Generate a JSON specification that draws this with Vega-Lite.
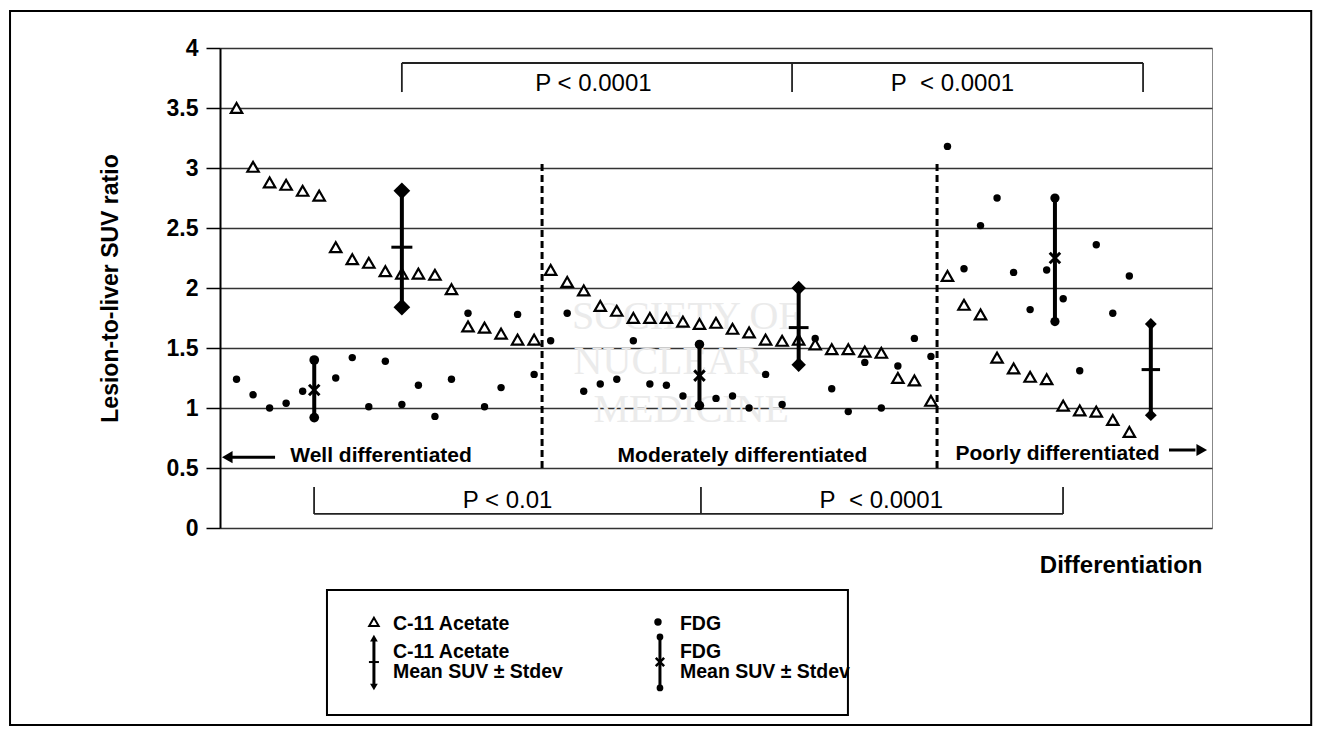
{
  "$schema": "https://vega.github.io/schema/vega-lite/v6.json",
  "width": 992,
  "height": 480,
  "padding": {"left": 9, "top": 10, "right": 0, "bottom": 0},
  "autosize": {"type": "pad"},
  "background": "white",
  "config": {"font": "Liberation Sans", "view": {"stroke": "#888", "strokeWidth": 1}},
  "resolve": {"scale": {"size": "independent", "shape": "independent"}},
  "datasets": {
    "points": [
      {"x": 1, "tracer": "C-11 Acetate", "y": 3.50}, {"x": 2, "tracer": "C-11 Acetate", "y": 3.01},
      {"x": 3, "tracer": "C-11 Acetate", "y": 2.88}, {"x": 4, "tracer": "C-11 Acetate", "y": 2.86},
      {"x": 5, "tracer": "C-11 Acetate", "y": 2.81}, {"x": 6, "tracer": "C-11 Acetate", "y": 2.77},
      {"x": 7, "tracer": "C-11 Acetate", "y": 2.34}, {"x": 8, "tracer": "C-11 Acetate", "y": 2.24},
      {"x": 9, "tracer": "C-11 Acetate", "y": 2.21}, {"x": 10, "tracer": "C-11 Acetate", "y": 2.14},
      {"x": 11, "tracer": "C-11 Acetate", "y": 2.12}, {"x": 12, "tracer": "C-11 Acetate", "y": 2.12},
      {"x": 13, "tracer": "C-11 Acetate", "y": 2.11}, {"x": 14, "tracer": "C-11 Acetate", "y": 1.99},
      {"x": 15, "tracer": "C-11 Acetate", "y": 1.68}, {"x": 16, "tracer": "C-11 Acetate", "y": 1.67},
      {"x": 17, "tracer": "C-11 Acetate", "y": 1.62}, {"x": 18, "tracer": "C-11 Acetate", "y": 1.57},
      {"x": 19, "tracer": "C-11 Acetate", "y": 1.57},
      {"x": 20, "tracer": "C-11 Acetate", "y": 2.15}, {"x": 21, "tracer": "C-11 Acetate", "y": 2.05},
      {"x": 22, "tracer": "C-11 Acetate", "y": 1.98}, {"x": 23, "tracer": "C-11 Acetate", "y": 1.85},
      {"x": 24, "tracer": "C-11 Acetate", "y": 1.81}, {"x": 25, "tracer": "C-11 Acetate", "y": 1.75},
      {"x": 26, "tracer": "C-11 Acetate", "y": 1.75}, {"x": 27, "tracer": "C-11 Acetate", "y": 1.75},
      {"x": 28, "tracer": "C-11 Acetate", "y": 1.72}, {"x": 29, "tracer": "C-11 Acetate", "y": 1.70},
      {"x": 30, "tracer": "C-11 Acetate", "y": 1.71}, {"x": 31, "tracer": "C-11 Acetate", "y": 1.66},
      {"x": 32, "tracer": "C-11 Acetate", "y": 1.63}, {"x": 33, "tracer": "C-11 Acetate", "y": 1.57},
      {"x": 34, "tracer": "C-11 Acetate", "y": 1.56}, {"x": 35, "tracer": "C-11 Acetate", "y": 1.57},
      {"x": 36, "tracer": "C-11 Acetate", "y": 1.53}, {"x": 37, "tracer": "C-11 Acetate", "y": 1.49},
      {"x": 38, "tracer": "C-11 Acetate", "y": 1.49}, {"x": 39, "tracer": "C-11 Acetate", "y": 1.47},
      {"x": 40, "tracer": "C-11 Acetate", "y": 1.46}, {"x": 41, "tracer": "C-11 Acetate", "y": 1.25},
      {"x": 42, "tracer": "C-11 Acetate", "y": 1.23}, {"x": 43, "tracer": "C-11 Acetate", "y": 1.06},
      {"x": 44, "tracer": "C-11 Acetate", "y": 2.10}, {"x": 45, "tracer": "C-11 Acetate", "y": 1.86},
      {"x": 46, "tracer": "C-11 Acetate", "y": 1.78}, {"x": 47, "tracer": "C-11 Acetate", "y": 1.42},
      {"x": 48, "tracer": "C-11 Acetate", "y": 1.33}, {"x": 49, "tracer": "C-11 Acetate", "y": 1.26},
      {"x": 50, "tracer": "C-11 Acetate", "y": 1.24}, {"x": 51, "tracer": "C-11 Acetate", "y": 1.02},
      {"x": 52, "tracer": "C-11 Acetate", "y": 0.98}, {"x": 53, "tracer": "C-11 Acetate", "y": 0.97},
      {"x": 54, "tracer": "C-11 Acetate", "y": 0.90}, {"x": 55, "tracer": "C-11 Acetate", "y": 0.80},
      {"x": 1, "tracer": "FDG", "y": 1.24}, {"x": 2, "tracer": "FDG", "y": 1.11},
      {"x": 3, "tracer": "FDG", "y": 1.00}, {"x": 4, "tracer": "FDG", "y": 1.04},
      {"x": 5, "tracer": "FDG", "y": 1.14}, {"x": 7, "tracer": "FDG", "y": 1.25},
      {"x": 8, "tracer": "FDG", "y": 1.42}, {"x": 9, "tracer": "FDG", "y": 1.01},
      {"x": 10, "tracer": "FDG", "y": 1.39}, {"x": 11, "tracer": "FDG", "y": 1.03},
      {"x": 12, "tracer": "FDG", "y": 1.19}, {"x": 13, "tracer": "FDG", "y": 0.93},
      {"x": 14, "tracer": "FDG", "y": 1.24}, {"x": 15, "tracer": "FDG", "y": 1.79},
      {"x": 16, "tracer": "FDG", "y": 1.01}, {"x": 17, "tracer": "FDG", "y": 1.17},
      {"x": 18, "tracer": "FDG", "y": 1.78}, {"x": 19, "tracer": "FDG", "y": 1.28},
      {"x": 20, "tracer": "FDG", "y": 1.56}, {"x": 21, "tracer": "FDG", "y": 1.79},
      {"x": 22, "tracer": "FDG", "y": 1.14}, {"x": 23, "tracer": "FDG", "y": 1.20},
      {"x": 24, "tracer": "FDG", "y": 1.24}, {"x": 25, "tracer": "FDG", "y": 1.56},
      {"x": 26, "tracer": "FDG", "y": 1.20}, {"x": 27, "tracer": "FDG", "y": 1.19},
      {"x": 28, "tracer": "FDG", "y": 1.10}, {"x": 30, "tracer": "FDG", "y": 1.08},
      {"x": 31, "tracer": "FDG", "y": 1.10}, {"x": 32, "tracer": "FDG", "y": 1.00},
      {"x": 33, "tracer": "FDG", "y": 1.28}, {"x": 34, "tracer": "FDG", "y": 1.03},
      {"x": 36, "tracer": "FDG", "y": 1.58}, {"x": 37, "tracer": "FDG", "y": 1.16},
      {"x": 38, "tracer": "FDG", "y": 0.97}, {"x": 39, "tracer": "FDG", "y": 1.38},
      {"x": 40, "tracer": "FDG", "y": 1.00}, {"x": 41, "tracer": "FDG", "y": 1.35},
      {"x": 42, "tracer": "FDG", "y": 1.58}, {"x": 43, "tracer": "FDG", "y": 1.43},
      {"x": 44, "tracer": "FDG", "y": 3.18}, {"x": 45, "tracer": "FDG", "y": 2.16},
      {"x": 46, "tracer": "FDG", "y": 2.52}, {"x": 47, "tracer": "FDG", "y": 2.75},
      {"x": 48, "tracer": "FDG", "y": 2.13}, {"x": 49, "tracer": "FDG", "y": 1.82},
      {"x": 50, "tracer": "FDG", "y": 2.15}, {"x": 51, "tracer": "FDG", "y": 1.91},
      {"x": 52, "tracer": "FDG", "y": 1.31}, {"x": 53, "tracer": "FDG", "y": 2.36},
      {"x": 54, "tracer": "FDG", "y": 1.79}, {"x": 55, "tracer": "FDG", "y": 2.10}
    ],
    "bars": [
      {"x": 11.0, "tracer": "C-11 Acetate", "group": "Well", "lo": 1.84, "mean": 2.34, "hi": 2.81},
      {"x": 35.0, "tracer": "C-11 Acetate", "group": "Moderate", "lo": 1.36, "mean": 1.67, "hi": 2.00},
      {"x": 56.3, "tracer": "C-11 Acetate", "group": "Poor", "lo": 0.94, "mean": 1.32, "hi": 1.70},
      {"x": 5.7, "tracer": "FDG", "group": "Well", "lo": 0.92, "mean": 1.15, "hi": 1.40},
      {"x": 29.0, "tracer": "FDG", "group": "Moderate", "lo": 1.02, "mean": 1.27, "hi": 1.53},
      {"x": 50.5, "tracer": "FDG", "group": "Poor", "lo": 1.72, "mean": 2.25, "hi": 2.75}
    ],
    "frame": [{"x": -12.7, "x2": 66.0, "y": 4.308, "y2": -1.642}],
    "watermark": [
      {"x": 28.2, "y": 1.76, "label": "SOCIETY OF"},
      {"x": 27.1, "y": 1.38, "label": "NUCLEAR"},
      {"x": 28.5, "y": 0.98, "label": "MEDICINE"}
    ],
    "dividers": [{"x": 19.48, "y": 0.5, "y2": 3.05}, {"x": 43.37, "y": 0.5, "y2": 3.04}],
    "brackets": [
      {"x": 11.0, "y": 3.875, "x2": 55.83, "y2": 3.875},
      {"x": 11.0, "y": 3.875, "x2": 11.0, "y2": 3.633},
      {"x": 34.6, "y": 3.875, "x2": 34.6, "y2": 3.633},
      {"x": 55.83, "y": 3.875, "x2": 55.83, "y2": 3.633},
      {"x": 5.69, "y": 0.117, "x2": 50.99, "y2": 0.117},
      {"x": 5.69, "y": 0.117, "x2": 5.69, "y2": 0.342},
      {"x": 29.09, "y": 0.117, "x2": 29.09, "y2": 0.342},
      {"x": 50.99, "y": 0.117, "x2": 50.99, "y2": 0.342}
    ],
    "pvalues": [
      {"x": 22.59, "y": 3.64, "label": "P < 0.0001"},
      {"x": 44.3, "y": 3.64, "label": "P\u00a0 < 0.0001"},
      {"x": 17.39, "y": 0.167, "label": "P < 0.01"},
      {"x": 40.0, "y": 0.167, "label": "P\u00a0 < 0.0001"}
    ],
    "regions": [
      {"x": 9.74, "y": 0.55, "label": "Well differentiated"},
      {"x": 31.6, "y": 0.553, "label": "Moderately differentiated"},
      {"x": 50.66, "y": 0.567, "label": "Poorly differentiated"}
    ],
    "arrowLines": [{"x": 0.5, "x2": 3.33, "y": 0.59}, {"x": 57.4, "x2": 59.0, "y": 0.65}],
    "arrowHeads": [{"x": 0.44, "y": 0.59, "dir": "left"}, {"x": 59.38, "y": 0.65, "dir": "right"}],
    "legendBox": [{"x": 6.47, "x2": 37.98, "y": -0.517, "y2": -1.558}],
    "legendText": [
      {"x": 10.46, "y": -0.85, "label": "C-11 Acetate"},
      {"x": 10.46, "y": -1.083, "label": "C-11 Acetate"},
      {"x": 10.46, "y": -1.25, "label": "Mean SUV ± Stdev"},
      {"x": 27.82, "y": -0.85, "label": "FDG"},
      {"x": 27.82, "y": -1.083, "label": "FDG"},
      {"x": 27.82, "y": -1.25, "label": "Mean SUV ± Stdev"}
    ],
    "legendSymbols": [
      {"x": 9.31, "y": -0.783, "tracer": "C-11 Acetate"},
      {"x": 26.49, "y": -0.783, "tracer": "FDG"}
    ],
    "legendIcons": [
      {"x": 9.31, "tracer": "C-11 Acetate", "top": -0.917, "bottom": -1.325, "mid": -1.117},
      {"x": 26.61, "tracer": "FDG", "top": -0.908, "bottom": -1.333, "mid": -1.117}
    ]
  },
  "encoding": {
    "x": {
      "field": "x", "type": "quantitative",
      "scale": {"domain": [0, 60], "nice": false, "zero": false},
      "axis": {
        "title": "Differentiation", "labels": false, "ticks": false, "domain": false, "grid": false,
        "titleFontSize": 24, "titleFontWeight": "bold", "titleColor": "black",
        "titleAlign": "right", "titleX": 982, "titleY": 44, "titleBaseline": "alphabetic"
      }
    },
    "y": {
      "field": "y", "type": "quantitative",
      "scale": {"domain": [0, 4], "nice": false, "zero": false},
      "axis": {
        "title": "Lesion-to-liver SUV ratio",
        "values": [0, 0.5, 1, 1.5, 2, 2.5, 3, 3.5, 4], "format": "~g",
        "labelFontSize": 23, "labelFontWeight": "bold", "labelColor": "black", "labelPadding": 8,
        "tickSize": 14, "tickColor": "black", "tickWidth": 1.5,
        "domainColor": "black", "domainWidth": 2,
        "grid": true, "gridColor": "#333", "gridWidth": 1.5,
        "titleFontSize": 23, "titleFontWeight": "bold", "titleColor": "black", "titlePadding": 44
      }
    }
  },
  "layer": [
    {
      "data": {"name": "frame"},
      "mark": {"type": "rect", "filled": false, "stroke": "black", "strokeWidth": 2},
      "encoding": {"x2": {"field": "x2"}, "y2": {"field": "y2"}}
    },
    {
      "data": {"name": "watermark"},
      "mark": {"type": "text", "font": "Liberation Serif", "fontSize": 40, "color": "#ebebeb", "align": "center", "baseline": "middle"},
      "encoding": {"text": {"field": "label"}}
    },
    {
      "data": {"name": "dividers"},
      "mark": {"type": "rule", "color": "black", "strokeWidth": 3, "strokeDash": [7, 4]},
      "encoding": {"y2": {"field": "y2"}}
    },
    {
      "data": {"name": "brackets"},
      "mark": {"type": "rule", "color": "#222", "strokeWidth": 1.8},
      "encoding": {"x2": {"field": "x2"}, "y2": {"field": "y2"}}
    },
    {
      "data": {"name": "pvalues"},
      "mark": {"type": "text", "fontSize": 24, "align": "center", "baseline": "alphabetic", "color": "black"},
      "encoding": {"text": {"field": "label"}}
    },
    {
      "data": {"name": "regions"},
      "mark": {"type": "text", "fontSize": 21, "fontWeight": "bold", "align": "center", "baseline": "alphabetic", "color": "black"},
      "encoding": {"text": {"field": "label"}}
    },
    {
      "data": {"name": "arrowLines"},
      "mark": {"type": "rule", "color": "black", "strokeWidth": 3},
      "encoding": {"x2": {"field": "x2"}}
    },
    {
      "data": {"name": "arrowHeads"},
      "mark": {"type": "point", "filled": true, "color": "black", "opacity": 1, "size": 150},
      "encoding": {
        "shape": {"field": "dir", "type": "nominal", "scale": {"domain": ["left", "right"], "range": ["triangle-left", "triangle-right"]}, "legend": null}
      }
    },
    {
      "data": {"name": "points"},
      "transform": [{"filter": "datum.tracer === 'C-11 Acetate'"}],
      "mark": {"type": "point", "shape": "triangle-up", "filled": true, "fill": "white", "stroke": "black", "strokeWidth": 2.2, "opacity": 1, "size": 130}
    },
    {
      "data": {"name": "points"},
      "transform": [{"filter": "datum.tracer === 'FDG'"}],
      "mark": {"type": "circle", "color": "black", "opacity": 1, "size": 55}
    },
    {
      "data": {"name": "bars"},
      "mark": {"type": "rule", "color": "black", "strokeWidth": 4},
      "encoding": {"y": {"field": "lo", "type": "quantitative", "title": "Lesion-to-liver SUV ratio"}, "y2": {"field": "hi"}}
    },
    {
      "data": {"name": "bars"},
      "transform": [{"filter": "datum.tracer === 'C-11 Acetate'"}, {"fold": ["lo", "hi"], "as": ["end", "val"]}],
      "mark": {"type": "point", "shape": "diamond", "filled": true, "color": "black", "opacity": 1},
      "encoding": {
        "y": {"field": "val", "type": "quantitative", "title": "Lesion-to-liver SUV ratio"},
        "size": {"field": "group", "type": "ordinal", "scale": {"domain": ["Well", "Moderate", "Poor"], "range": [280, 140, 210]}, "legend": null}
      }
    },
    {
      "data": {"name": "bars"},
      "transform": [{"filter": "datum.tracer === 'C-11 Acetate'"}],
      "mark": {"type": "point", "shape": "M-1,0L1,0", "filled": false, "stroke": "black", "strokeWidth": 3, "opacity": 1},
      "encoding": {
        "y": {"field": "mean", "type": "quantitative", "title": "Lesion-to-liver SUV ratio"},
        "size": {"field": "group", "type": "ordinal", "scale": {"domain": ["Well", "Moderate", "Poor"], "range": [441, 340, 441]}, "legend": null}
      }
    },
    {
      "data": {"name": "bars"},
      "transform": [{"filter": "datum.tracer === 'FDG'"}, {"fold": ["lo", "hi"], "as": ["end", "val"]}],
      "mark": {"type": "point", "shape": "circle", "filled": true, "color": "black", "opacity": 1},
      "encoding": {
        "y": {"field": "val", "type": "quantitative", "title": "Lesion-to-liver SUV ratio"},
        "size": {"field": "group", "type": "ordinal", "scale": {"domain": ["Well", "Moderate", "Poor"], "range": [95, 85, 250]}, "legend": null}
      }
    },
    {
      "data": {"name": "bars"},
      "transform": [{"filter": "datum.tracer === 'FDG'"}],
      "mark": {"type": "point", "shape": "M-1,-1L1,1M-1,1L1,-1", "filled": false, "stroke": "black", "strokeWidth": 3, "opacity": 1},
      "encoding": {
        "y": {"field": "mean", "type": "quantitative", "title": "Lesion-to-liver SUV ratio"},
        "size": {"field": "group", "type": "ordinal", "scale": {"domain": ["Well", "Moderate", "Poor"], "range": [110, 110, 230]}, "legend": null}
      }
    },
    {
      "data": {"name": "legendBox"},
      "mark": {"type": "rect", "filled": false, "stroke": "black", "strokeWidth": 2},
      "encoding": {"x2": {"field": "x2"}, "y2": {"field": "y2"}}
    },
    {
      "data": {"name": "legendText"},
      "mark": {"type": "text", "fontSize": 19.5, "fontWeight": "bold", "align": "left", "baseline": "alphabetic", "color": "black"},
      "encoding": {"text": {"field": "label"}}
    },
    {
      "data": {"name": "legendSymbols"},
      "transform": [{"filter": "datum.tracer === 'C-11 Acetate'"}],
      "mark": {"type": "point", "shape": "triangle-up", "filled": true, "fill": "white", "stroke": "black", "strokeWidth": 2, "opacity": 1, "size": 90}
    },
    {
      "data": {"name": "legendSymbols"},
      "transform": [{"filter": "datum.tracer === 'FDG'"}],
      "mark": {"type": "circle", "color": "black", "opacity": 1, "size": 55}
    },
    {
      "data": {"name": "legendIcons"},
      "mark": {"type": "rule", "color": "black", "strokeWidth": 3},
      "encoding": {"y": {"field": "top", "type": "quantitative", "title": "Lesion-to-liver SUV ratio"}, "y2": {"field": "bottom"}}
    },
    {
      "data": {"name": "legendIcons"},
      "transform": [{"filter": "datum.tracer === 'C-11 Acetate'"}],
      "mark": {"type": "point", "shape": "triangle-up", "filled": true, "color": "black", "opacity": 1, "size": 60},
      "encoding": {"y": {"field": "top", "type": "quantitative", "title": "Lesion-to-liver SUV ratio"}}
    },
    {
      "data": {"name": "legendIcons"},
      "transform": [{"filter": "datum.tracer === 'C-11 Acetate'"}],
      "mark": {"type": "point", "shape": "triangle-down", "filled": true, "color": "black", "opacity": 1, "size": 60},
      "encoding": {"y": {"field": "bottom", "type": "quantitative", "title": "Lesion-to-liver SUV ratio"}}
    },
    {
      "data": {"name": "legendIcons"},
      "transform": [{"filter": "datum.tracer === 'C-11 Acetate'"}],
      "mark": {"type": "point", "shape": "M-1,0L1,0", "filled": false, "stroke": "black", "strokeWidth": 2, "opacity": 1, "size": 100},
      "encoding": {"y": {"field": "mid", "type": "quantitative", "title": "Lesion-to-liver SUV ratio"}}
    },
    {
      "data": {"name": "legendIcons"},
      "transform": [{"filter": "datum.tracer === 'FDG'"}, {"fold": ["top", "bottom"], "as": ["end", "val"]}],
      "mark": {"type": "circle", "color": "black", "opacity": 1, "size": 45},
      "encoding": {"y": {"field": "val", "type": "quantitative", "title": "Lesion-to-liver SUV ratio"}}
    },
    {
      "data": {"name": "legendIcons"},
      "transform": [{"filter": "datum.tracer === 'FDG'"}],
      "mark": {"type": "point", "shape": "M-1,-1L1,1M-1,1L1,-1", "filled": false, "stroke": "black", "strokeWidth": 2.5, "opacity": 1, "size": 70},
      "encoding": {"y": {"field": "mid", "type": "quantitative", "title": "Lesion-to-liver SUV ratio"}}
    }
  ]
}
